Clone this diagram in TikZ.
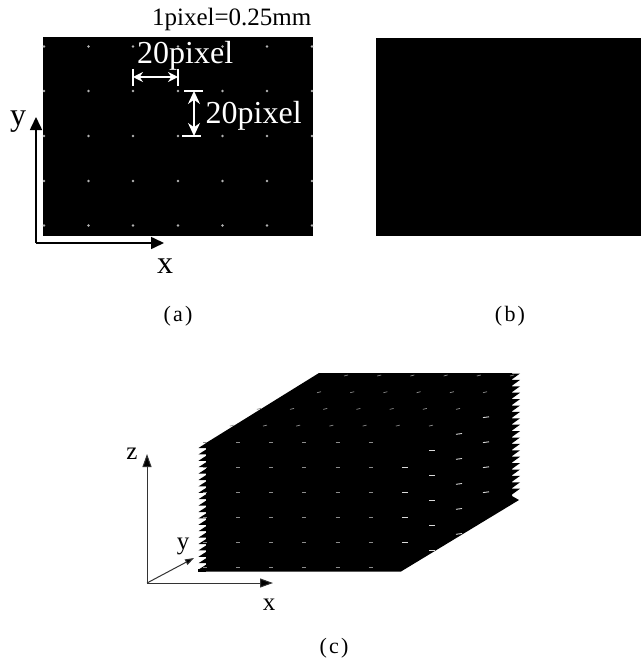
\documentclass[tikz,border=0pt]{standalone}
\usepackage{fontspec}
\setmainfont{Liberation Serif}
\usetikzlibrary{arrows.meta, positioning}

\begin{document}
\begin{tikzpicture}[
    x=1pt, y=-1pt,
    % styles
    panel/.style    = {rectangle, fill=black, inner sep=0pt, anchor=north west},
    axea/.style     = {-{Triangle[length=13pt, width=12pt]}, line width=1.6pt, black},
    axec/.style     = {-{Triangle[length=13pt, width=9pt, fill=black]}, line width=1pt, black!80},
    cote/.style     = {{Stealth[length=10pt, width=10pt]}-{Stealth[length=10pt, width=10pt]},
                       line width=1.4pt, white},
    cotev/.style    = {{Stealth[length=13pt, width=12pt]}-{Stealth[length=13pt, width=12pt]},
                       line width=1.4pt, white},
    bar/.style      = {line width=1.2pt, white},
    lab/.style      = {inner sep=0pt, font=\fontsize{32}{32}\selectfont},
    labc/.style     = {inner sep=0pt, font=\fontsize{25}{25}\selectfont},
    legend/.style   = {inner sep=0pt, font=\fontsize{22}{22}\selectfont},
    point/.style    = {fill=white!70!black},
    tick/.style     = {line width=0.7pt, white!55!black},
    tickb/.style    = {line width=0.9pt, white!85!black},
]
\useasboundingbox (0,0) rectangle (641,666);

% ── Panneau (a) ──────────────────────────────────────────────────────────────
\node[panel, minimum width=270pt, minimum height=199pt] (img_a) at (43,37) {};
\foreach \cx in {44,88.5,133,178,222.5,267,312}
    \foreach \cy in {46.5,91,136,181,225.5}
        \fill[point] (\cx,\cy) circle (1.3pt);

\node[inner sep=0pt, anchor=south east, font=\fontsize{25}{25}\selectfont] (scale_a)
    at (311.5,31) {1pixel=0.25mm};
\node[lab, white, anchor=base west] (lab_h) at (137,64) {20pixel};
\node[lab, white, anchor=base west] (lab_v) at (205.5,124) {20pixel};

\coordinate (h_l) at (133,77);
\coordinate (h_r) at (178,77);
\coordinate (v_t) at (194,91);
\coordinate (v_b) at (194,136);
\draw[bar] (133,69) -- (133,86);
\draw[bar] (178,69) -- (178,86);
\draw[bar] (184,91) -- (203,91);
\draw[bar] (182,136) -- (201,136);
\draw[cote] (h_l) -- (h_r);
\draw[cotev] (v_t) -- (v_b);

\coordinate (org_a) at (36,243);
\coordinate (end_ax) at (164,243);
\coordinate (end_ay) at (36,117);
\draw[axea] (org_a) -- (end_ax);
\draw[axea] (org_a) -- (end_ay);
\node[lab] (lab_ax) at (165,266.5) {x};
\node[lab] (lab_ay) at (18,122) {y};
\node[legend] (cap_a) at (178,316) {(\kern.1em a\kern.1em)};

% ── Panneau (b) ──────────────────────────────────────────────────────────────
\node[panel, minimum width=265pt, minimum height=198pt] (img_b) at (376,38) {};
\node[legend] (cap_b) at (510,316) {(\kern.1em b\kern.1em)};

% ── Panneau (c) : volume ─────────────────────────────────────────────────────
\fill[black] (206,443) -- (319,373) -- (512,373) -- (512,496) -- (519,500) -- (401,571.5) -- (206,571.5) -- cycle;
\foreach \ty in {446,452.4,...,570}
    \fill[black] (207,\ty-3.5) -- (198.5,\ty+2) -- (207,\ty+2) -- cycle;
\foreach \ty in {376,382.4,...,496}
    \fill[black] (511,\ty+4) -- (520,\ty-2.5) -- (511,\ty-2.5) -- cycle;
\fill[black] (198,569) -- (206,569) -- (206,571.5) -- (198,571.5) -- cycle;

% face avant
\foreach \i in {-1,...,4}
    \foreach \k in {0,...,5}
        \draw[tick] ({238+33.2*\i-2},{567.3-25*\k}) -- ++(4,0);
% face du dessus
\foreach \i in {-1,...,5}
    \foreach \j in {1,2}
        \draw[tick] ({238+33.2*\i+27*\j-2},{567.3-125-16.7*\j+0.5}) -- ++(4,-1);
\foreach \i in {0,...,5}
    \foreach \j in {3,4}
        \draw[tick] ({238+33.2*\i+27*\j-2},{567.3-125-16.7*\j+0.5}) -- ++(4,-1);
% face droite
\foreach \k in {1,...,4}
    \draw[tickb] ({405-3},{567.3-25*\k}) -- ++(6,0);
\foreach \k in {0,...,4}
    \draw[tickb] ({432-3},{550.6-25*\k}) -- ++(6,0);
\foreach \k in {0,...,4}
    \draw[tickb] ({459-3},{534.3-25*\k}) -- ++(6,-0.8);
\foreach \k in {1,...,4}
    \draw[tickb] ({486-3},{517.6-25*\k}) -- ++(6,-0.8);

% ── Panneau (c) : axes ───────────────────────────────────────────────────────
\coordinate (org_c) at (147,583);
\coordinate (end_cx) at (273,583);
\coordinate (end_cy) at (194,558);
\coordinate (end_cz) at (147,454);
\draw[axec] (org_c) -- (end_cx);
\draw[axec, -{Triangle[length=9pt, width=6pt, fill=black]}] (org_c) -- (end_cy);
\draw[axec] (org_c) -- (end_cz);
\node[labc] (lab_cx) at (269,605) {x};
\node[labc] (lab_cy) at (183,546) {y};
\node[labc] (lab_cz) at (132,454) {z};
\node[legend] (cap_c) at (334,648) {(\kern.1em c\kern.1em)};

\end{tikzpicture}
\end{document}
